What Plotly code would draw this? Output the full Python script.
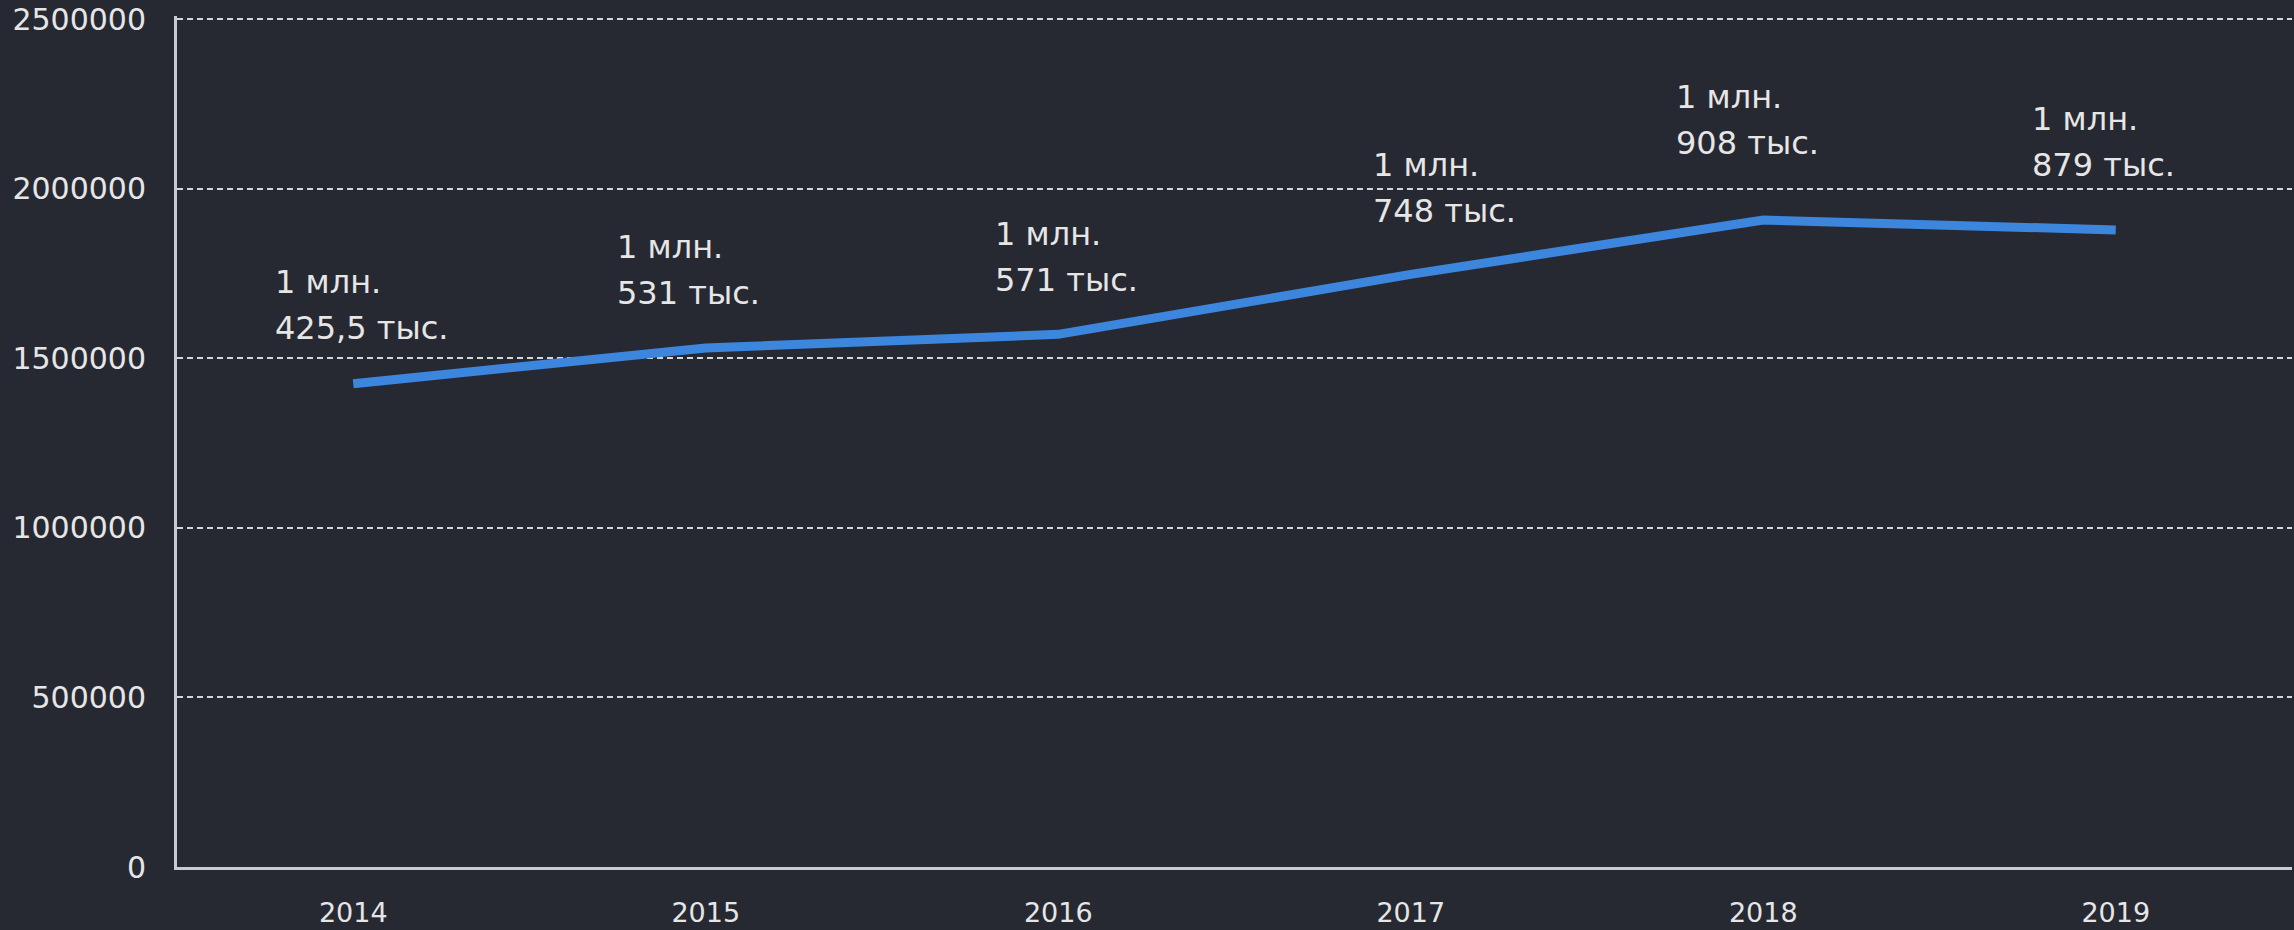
import plotly.graph_objects as go

# ---- data ----
years = ["2014", "2015", "2016", "2017", "2018", "2019"]
values = [1425500, 1531000, 1571000, 1748000, 1908000, 1879000]
label_line1 = ["1 млн.", "1 млн.", "1 млн.", "1 млн.", "1 млн.", "1 млн."]
label_line2 = ["425,5 тыс.", "531 тыс.", "571 тыс.", "748 тыс.", "908 тыс.", "879 тыс."]
y_ticks = [0, 500000, 1000000, 1500000, 2000000, 2500000]
y_ticktext = ["0", "500000", "1000000", "1500000", "2000000", "2500000"]

# ---- label placement (pixel offsets from each point) ----
label_dx = [-80, -91, -65, -40, -89, -86]
label_dy = [56, 55, 54, 63, 77, 65]
line_gap = 46

BG = "#262932"
TEXT = "#e6e6e6"
FONT = "DejaVu Sans"

fig = go.Figure()
fig.add_trace(go.Scatter(
    x=years, y=values, mode="lines",
    line=dict(color="#3d86de", width=9),
    hoverinfo="skip", showlegend=False,
))

for i, yr in enumerate(years):
    for txt, extra in ((label_line1[i], line_gap), (label_line2[i], 0)):
        fig.add_annotation(
            x=i, y=values[i], xref="x", yref="y",
            text=txt, showarrow=False,
            xanchor="left", yanchor="middle",
            xshift=label_dx[i], yshift=label_dy[i] + extra,
            font=dict(family=FONT, size=32, color=TEXT),
        )

fig.update_layout(
    width=2294, height=930,
    paper_bgcolor=BG, plot_bgcolor=BG,
    margin=dict(l=177, r=2, t=14, b=55),
    font=dict(family=FONT, color=TEXT),
    xaxis=dict(
        type="category", range=[-0.5, 5.5],
        showgrid=False, zeroline=False,
        showline=True, linecolor="#c9cbd0", linewidth=3,
        ticks="", ticklabelstandoff=20,
        tickfont=dict(family=FONT, size=27, color=TEXT),
    ),
    yaxis=dict(
        range=[0, 2510000],
        tickvals=y_ticks, ticktext=y_ticktext,
        showgrid=True, gridcolor="#d5d6da", gridwidth=2, griddash="6px,4px",
        zeroline=False,
        showline=True, linecolor="#c9cbd0", linewidth=3,
        ticks="", ticklabelstandoff=22, ticklabeloverflow="allow",
        tickfont=dict(family=FONT, size=30, color=TEXT),
    ),
)

fig.write_html(
    "out.html",
    config={"displayModeBar": False},
    post_script="document.body.style.margin='0';document.body.style.background='#262932';",
)
